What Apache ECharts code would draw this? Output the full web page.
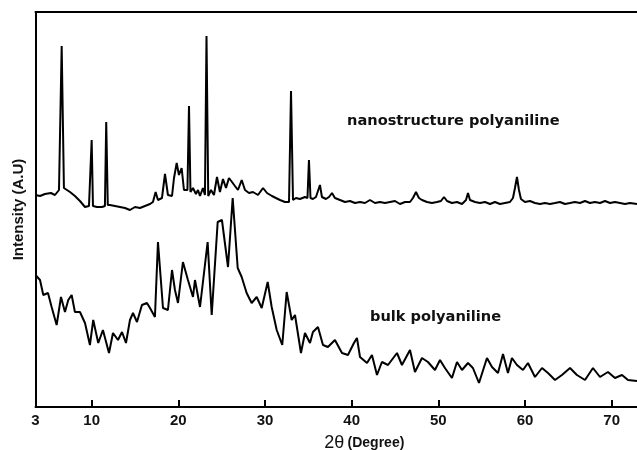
<!DOCTYPE html>
<html>
<head>
<meta charset="utf-8">
<title>XRD polyaniline</title>
<script src="https://cdn.jsdelivr.net/npm/echarts@6/dist/echarts.min.js"></script>
<style>
  html, body { margin: 0; padding: 0; background: #fff; }
  #main { width: 637px; height: 450px; }
</style>
</head>
<body>
<div id="main"></div>
<script>
// 2-theta positions (degree) and intensity (A.U)
var nanoAngle = [3.52, 4.04, 4.61, 5.30, 5.77, 6.23, 6.54, 6.80, 6.92, 7.50, 8.07, 8.65, 9.23, 9.69, 9.84, 10.00, 10.15, 10.61, 11.19, 11.53, 11.68, 11.86, 12.11, 12.69, 13.27, 13.84, 14.42, 15.00, 15.57, 16.15, 16.73, 17.07, 17.38, 17.65, 18.11, 18.46, 18.80, 19.27, 19.50, 19.81, 20.07, 20.38, 20.65, 20.88, 21.05, 21.23, 21.40, 21.69, 22.03, 22.27, 22.50, 22.84, 23.07, 23.25, 23.45, 23.77, 24.11, 24.46, 24.80, 25.15, 25.50, 25.84, 26.19, 26.53, 26.88, 27.31, 27.69, 28.15, 28.61, 29.19, 29.77, 30.23, 30.80, 31.26, 31.73, 32.30, 32.77, 33.00, 33.23, 33.57, 34.03, 34.61, 34.90, 35.07, 35.25, 35.53, 35.88, 36.11, 36.34, 36.57, 37.03, 37.38, 37.73, 38.07, 38.65, 39.23, 39.80, 40.38, 40.96, 41.53, 42.11, 42.69, 43.26, 43.84, 44.42, 45.00, 45.57, 46.15, 46.73, 47.07, 47.42, 47.76, 48.11, 48.69, 49.26, 49.84, 50.30, 50.65, 51.00, 51.57, 52.15, 52.73, 53.19, 53.42, 53.65, 54.23, 54.80, 55.38, 55.96, 56.53, 57.11, 57.69, 58.26, 58.61, 58.84, 59.07, 59.30, 59.53, 59.99, 60.57, 61.15, 61.73, 62.30, 62.88, 63.46, 64.03, 64.61, 65.19, 65.76, 66.34, 66.92, 67.49, 68.07, 68.65, 69.23, 69.80, 70.38, 70.96, 71.53, 72.11, 72.92];
var nanoIntensity = [212, 211, 213, 214, 212, 217, 361, 219, 219, 215, 211, 206, 200, 201, 202, 267, 201, 200, 200, 201, 285, 202, 202, 201, 200, 199, 197, 200, 199, 201, 203, 205, 215, 207, 209, 233, 212, 211, 229, 244, 232, 239, 217, 215, 217, 301, 215, 219, 213, 217, 211, 219, 212, 371, 211, 217, 212, 230, 215, 228, 219, 229, 225, 221, 217, 227, 217, 214, 215, 212, 219, 214, 211, 209, 207, 205, 205, 316, 207, 209, 208, 210, 209, 247, 209, 208, 210, 211, 222, 210, 208, 210, 214, 209, 207, 205, 206, 204, 205, 204, 207, 204, 205, 204, 205, 206, 203, 205, 205, 209, 215, 209, 207, 205, 204, 205, 206, 210, 206, 204, 205, 203, 207, 214, 207, 205, 204, 205, 203, 205, 203, 204, 205, 209, 219, 230, 217, 208, 205, 206, 204, 203, 204, 203, 204, 205, 203, 204, 205, 204, 206, 204, 205, 204, 206, 204, 205, 204, 203, 204, 203];

var bulkAngle = [3.52, 4.04, 4.42, 4.96, 5.38, 5.96, 6.46, 6.92, 7.30, 7.69, 8.07, 8.65, 9.23, 9.80, 10.18, 10.76, 11.30, 12.00, 12.46, 13.04, 13.50, 13.96, 14.42, 14.77, 15.23, 15.80, 16.38, 16.73, 17.30, 17.65, 18.23, 18.80, 19.27, 19.61, 19.96, 20.53, 21.11, 21.69, 21.92, 22.50, 22.84, 23.38, 23.85, 24.54, 25.03, 25.73, 26.27, 26.85, 27.31, 27.88, 28.46, 29.04, 29.62, 30.31, 30.77, 31.35, 31.99, 32.50, 33.08, 33.46, 34.15, 34.61, 35.19, 35.53, 36.11, 36.69, 37.26, 38.07, 38.88, 39.57, 40.26, 40.61, 40.96, 41.77, 42.34, 42.92, 43.49, 44.19, 45.23, 45.80, 46.73, 47.30, 48.11, 48.80, 49.61, 50.19, 50.76, 51.57, 52.15, 52.73, 53.42, 53.99, 54.69, 55.61, 56.19, 56.88, 57.46, 58.03, 58.49, 59.07, 59.76, 60.34, 61.15, 61.96, 62.65, 63.46, 64.26, 65.19, 65.99, 66.92, 67.84, 68.65, 69.57, 70.38, 71.19, 71.88, 72.92];
var bulkIntensity = [132, 127, 112, 114, 100, 82, 110, 95, 107, 112, 95, 95, 84, 62, 87, 64, 77, 54, 74, 67, 75, 64, 87, 94, 85, 102, 104, 99, 90, 165, 99, 97, 137, 117, 104, 145, 127, 110, 127, 100, 125, 165, 92, 185, 187, 140, 209, 139, 130, 114, 104, 110, 99, 125, 100, 77, 62, 115, 87, 92, 54, 74, 64, 75, 80, 62, 60, 67, 54, 52, 64, 69, 50, 44, 52, 32, 45, 42, 54, 42, 57, 35, 49, 45, 37, 47, 39, 29, 45, 37, 44, 39, 24, 49, 40, 34, 53, 34, 49, 42, 37, 44, 30, 39, 34, 27, 32, 39, 32, 27, 39, 30, 35, 29, 32, 27, 26];

var tickAngles = [10, 20, 30, 40, 50, 60, 70];
var axisStart = 3.52;
var axisEnd = 72.92;

function pairs(xs, ys) {
  return xs.map(function (x, i) { return [x, ys[i]]; });
}

var myChart = echarts.init(document.getElementById("main"));
var option;

option = {
  animation: false,
  grid: { left: 35.5, right: 0, top: 12, bottom: 43, containLabel: false, outerBoundsMode: "none" },
  xAxis: [
    {
      type: "value",
      min: axisStart,
      max: axisEnd,
      splitLine: { show: false },
      axisLine: { lineStyle: { color: "#000", width: 2 } },
      axisTick: {
        inside: true,
        length: 7,
        customValues: tickAngles,
        lineStyle: { color: "#000", width: 2 }
      },
      axisLabel: {
        customValues: [axisStart].concat(tickAngles),
        color: "#111",
        fontFamily: "Liberation Sans",
        fontWeight: "bold",
        fontSize: 15,
        margin: 6,
        formatter: function (v) {
          return v < 5 ? "3" : String(v);
        }
      },
      name: "{t|2θ} {d|(Degree)}",
      nameLocation: "middle",
      nameGap: 27,
      nameTextStyle: {
        padding: [0, 0, 0, 56],
        rich: {
          t: { fontSize: 18, fontFamily: "Liberation Sans", color: "#111" },
          d: { fontSize: 14, fontFamily: "Liberation Sans", fontWeight: "bold", color: "#111" }
        }
      }
    },
    {
      type: "value",
      position: "top",
      min: axisStart,
      max: axisEnd,
      splitLine: { show: false },
      axisLine: { lineStyle: { color: "#000", width: 2 } },
      axisTick: { show: false },
      axisLabel: { show: false }
    }
  ],
  yAxis: {
    type: "value",
    min: 0,
    max: 395,
    splitLine: { show: false },
    axisTick: { show: false },
    axisLabel: { show: false },
    axisLine: { show: true, lineStyle: { color: "#000", width: 2 } },
    name: "Intensity (A.U)",
    nameLocation: "middle",
    nameGap: 9,
    nameTextStyle: {
      color: "#111",
      fontFamily: "Liberation Sans",
      fontWeight: "bold",
      fontSize: 15
    }
  },
  series: [
    {
      name: "nanostructure polyaniline",
      type: "line",
      data: pairs(nanoAngle, nanoIntensity),
      showSymbol: false,
      lineStyle: { color: "#000", width: 2 }
    },
    {
      name: "bulk polyaniline",
      type: "line",
      data: pairs(bulkAngle, bulkIntensity),
      showSymbol: false,
      lineStyle: { color: "#000", width: 2 }
    }
  ],
  graphic: [
    {
      type: "text",
      left: 347,
      top: 114,
      style: {
        text: "nanostructure polyaniline",
        fill: "#111",
        font: "bold 14.6px 'DejaVu Sans'"
      }
    },
    {
      type: "text",
      left: 370,
      top: 310,
      style: {
        text: "bulk polyaniline",
        fill: "#111",
        font: "bold 14.6px 'DejaVu Sans'"
      }
    }
  ]
};

option && myChart.setOption(option);
</script>
</body>
</html>
